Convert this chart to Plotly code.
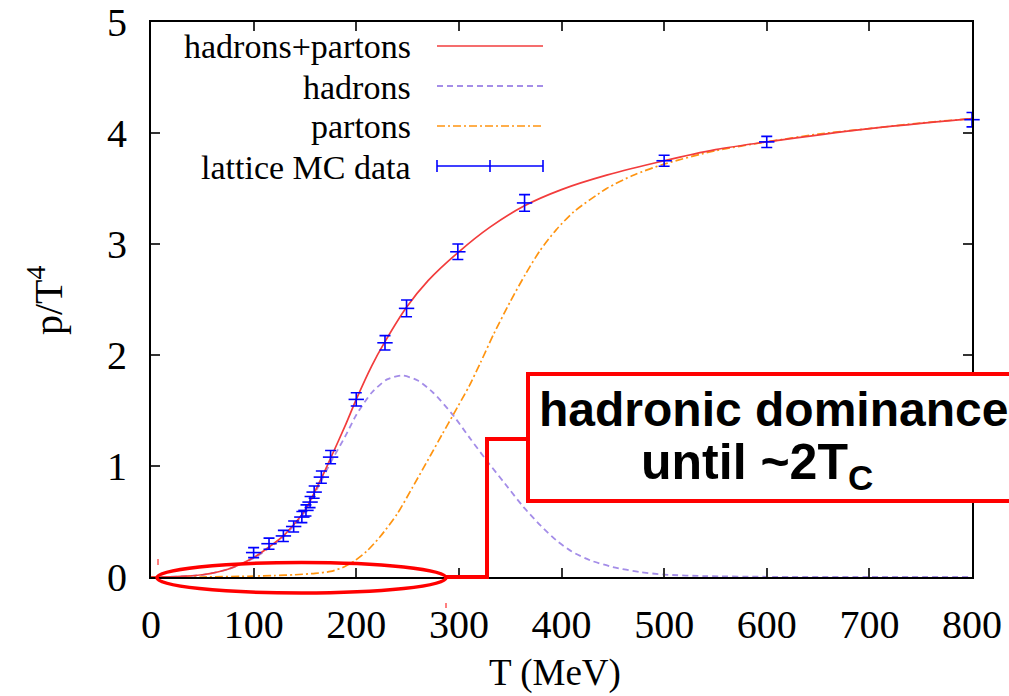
import plotly.graph_objects as go

# ---- data -----------------------------------------------------------------
# lattice Monte-Carlo points: temperature (MeV), p/T^4 and its error
lat_T = [100, 115, 129, 139, 147, 151, 155, 159, 166, 175, 200, 228, 249, 299, 364, 500, 600, 800]
lat_p = [0.22, 0.30, 0.37, 0.455, 0.54, 0.60, 0.675, 0.765, 0.90, 1.08, 1.60, 2.11, 2.42, 2.93, 3.37, 3.75, 3.92, 4.12]
lat_err = [0.045, 0.05, 0.05, 0.05, 0.05, 0.05, 0.05, 0.055, 0.055, 0.06, 0.06, 0.065, 0.075, 0.07, 0.075, 0.05, 0.05, 0.065]

# model: hadrons + partons
tot_T = [0, 25, 50, 75, 100, 115, 130, 150, 165, 175, 190, 200, 215, 228, 249, 270, 300, 330, 363, 400, 444, 500, 550, 600, 700, 800]
tot_p = [0.0, 0.004, 0.02, 0.07, 0.175, 0.27, 0.38, 0.60, 0.87, 1.07, 1.38, 1.60, 1.90, 2.12, 2.43, 2.67, 2.93, 3.15, 3.34, 3.49, 3.62, 3.75, 3.85, 3.92, 4.04, 4.13]

# model: hadronic part
had_T = [0, 25, 50, 75, 100, 115, 130, 150, 165, 175, 190, 200, 215, 230, 245, 260, 275, 295, 310, 327, 345, 363, 380, 395, 410, 428, 450, 476, 500, 540, 600, 700, 800]
had_p = [0.0, 0.004, 0.02, 0.07, 0.17, 0.26, 0.37, 0.59, 0.85, 1.03, 1.28, 1.46, 1.66, 1.78, 1.815, 1.77, 1.66, 1.45, 1.26, 1.05, 0.84, 0.63, 0.46, 0.33, 0.23, 0.15, 0.09, 0.045, 0.022, 0.008, 0.002, 0.0, 0.0]

# model: partonic part
par_T = [0, 50, 100, 120, 140, 160, 175, 188, 199, 210, 223, 240, 255, 272, 284, 295, 310, 321, 334, 350, 365, 379, 395, 412, 444, 470, 500, 550, 600, 650, 700, 750, 800]
par_p = [0.0, 0.0, 0.008, 0.013, 0.02, 0.033, 0.05, 0.09, 0.15, 0.23, 0.36, 0.57, 0.81, 1.09, 1.29, 1.47, 1.72, 1.93, 2.19, 2.48, 2.73, 2.94, 3.13, 3.29, 3.50, 3.62, 3.72, 3.84, 3.92, 3.99, 4.04, 4.09, 4.13]

x_ticks = [0, 100, 200, 300, 400, 500, 600, 700, 800]
y_ticks = [0, 1, 2, 3, 4, 5]

legend_labels = ["hadrons+partons", "hadrons", "partons", "lattice MC data"]
callout_lines = ["hadronic dominance", "until ~2T<sub>C</sub>"]

# ---- styling ----------------------------------------------------------------
RED = "#F23C3C"
PURPLE = "#A48DE8"
ORANGE = "#FF9410"
BLUE = "#0000FF"
SERIF = "Liberation Serif, Times New Roman, serif"
SANS = "Liberation Sans, Arial, sans-serif"

W, H = 1009, 696
ML, MR, MT, MB = 151, 37, 22, 119
PW, PH = W - ML - MR, H - MT - MB


def px(x):
    """pixel column -> paper x"""
    return (x - ML) / PW


def py(y):
    """pixel row -> paper y"""
    return (H - MB - y) / PH


fig = go.Figure()

fig.add_trace(go.Scatter(x=had_T, y=had_p, mode="lines", name=legend_labels[1],
                         line=dict(color=PURPLE, width=1.8, dash="6px,4px", shape="spline", smoothing=0.7)))
fig.add_trace(go.Scatter(x=par_T, y=par_p, mode="lines", name=legend_labels[2],
                         line=dict(color=ORANGE, width=1.7, dash="8px,3px,2px,3px", shape="spline", smoothing=0.7)))
fig.add_trace(go.Scatter(x=tot_T, y=tot_p, mode="lines", name=legend_labels[0],
                         line=dict(color=RED, width=1.7, shape="spline", smoothing=0.7)))
fig.add_trace(go.Scatter(x=lat_T, y=lat_p, mode="markers", name=legend_labels[3],
                         marker=dict(symbol="line-ew", size=11, color=BLUE,
                                     line=dict(color=BLUE, width=1.6)),
                         error_y=dict(type="data", array=lat_err, color=BLUE,
                                      thickness=1.6, width=5.5),
                         cliponaxis=False))

shapes = []
annotations = []

# key in the upper-left corner: labels right-aligned, samples to their right
rows = [46, 86, 126, 166]
for lab, yr in zip(legend_labels, rows):
    annotations.append(dict(x=px(413), y=py(yr + 1), xref="paper", yref="paper",
                            text=lab, showarrow=False, xanchor="right", yanchor="middle",
                            font=dict(family=SERIF, size=34, color="black")))
sx0, sx1 = px(437), px(543)
shapes.append(dict(type="line", xref="paper", yref="paper", x0=sx0, x1=sx1,
                   y0=py(rows[0]), y1=py(rows[0]), line=dict(color=RED, width=1.7)))
shapes.append(dict(type="line", xref="paper", yref="paper", x0=sx0, x1=sx1,
                   y0=py(rows[1]), y1=py(rows[1]),
                   line=dict(color=PURPLE, width=1.8, dash="6px,4px")))
shapes.append(dict(type="line", xref="paper", yref="paper", x0=sx0, x1=sx1,
                   y0=py(rows[2]), y1=py(rows[2]),
                   line=dict(color=ORANGE, width=1.7, dash="8px,3px,2px,3px")))
shapes.append(dict(type="line", xref="paper", yref="paper", x0=sx0, x1=sx1,
                   y0=py(rows[3]), y1=py(rows[3]), line=dict(color=BLUE, width=1.6)))
for xc in (437, 490, 543):
    shapes.append(dict(type="line", xref="paper", yref="paper", x0=px(xc), x1=px(xc),
                       y0=py(rows[3] - 6), y1=py(rows[3] + 6), line=dict(color=BLUE, width=1.6)))

# red highlight: ellipse at the low-T region, connector and text box
shapes.append(dict(type="circle", xref="paper", yref="paper", layer="above",
                   x0=px(157), x1=px(446), y0=py(593), y1=py(562.5),
                   line=dict(color="#FF0000", width=3.5)))
shapes.append(dict(type="path", xref="paper", yref="paper", layer="above",
                   path=f"M {px(444)},{py(577)} L {px(487)},{py(577)} L {px(487)},{py(439)} L {px(528)},{py(439)}",
                   line=dict(color="#FF0000", width=4)))
shapes.append(dict(type="rect", xref="paper", yref="paper", layer="above",
                   x0=px(528), x1=px(1020), y0=py(501), y1=py(374),
                   fillcolor="white", line=dict(color="#FF0000", width=4)))
for (xa, ya0, ya1) in ((158, 559, 565), (446, 603, 608)):
    shapes.append(dict(type="line", xref="paper", yref="paper", layer="above",
                       x0=px(xa), x1=px(xa), y0=py(ya0), y1=py(ya1),
                       line=dict(color="#FF0000", width=1)))

annotations.append(dict(x=px(773), y=py(409), xref="paper", yref="paper",
                        text=f"<b>{callout_lines[0]}</b>", showarrow=False,
                        xanchor="center", yanchor="middle",
                        font=dict(family=SANS, size=48, color="black")))
annotations.append(dict(x=px(757), y=py(465), xref="paper", yref="paper",
                        text=f"<b>{callout_lines[1]}</b>", showarrow=False,
                        xanchor="center", yanchor="middle",
                        font=dict(family=SANS, size=50, color="black")))

# axis titles
annotations.append(dict(x=px(555), y=py(673), xref="paper", yref="paper",
                        text="T (MeV)", showarrow=False, xanchor="center", yanchor="middle",
                        font=dict(family=SERIF, size=37, color="black")))
annotations.append(dict(x=px(45), y=py(300), xref="paper", yref="paper",
                        text="p/T<sup>4</sup>", showarrow=False, textangle=-90,
                        xanchor="center", yanchor="middle",
                        font=dict(family=SERIF, size=40, color="black")))

axis_common = dict(showline=True, linecolor="black", linewidth=2, mirror="ticks",
                   ticks="inside", ticklen=9, tickwidth=1.5, tickcolor="#333333",
                   showgrid=False, zeroline=False, automargin=False,
                   tickfont=dict(family=SERIF, size=40, color="black"))

fig.update_layout(
    width=W, height=H,
    margin=dict(l=ML, r=MR, t=MT, b=MB),
    paper_bgcolor="white", plot_bgcolor="white",
    showlegend=False,
    xaxis=dict(range=[0, 800], tickvals=x_ticks, ticklabelstandoff=11, **axis_common),
    yaxis=dict(range=[0, 5], tickvals=y_ticks, ticklabelstandoff=14, **axis_common),
    shapes=shapes,
    annotations=annotations,
)

fig.write_html("out.html")
